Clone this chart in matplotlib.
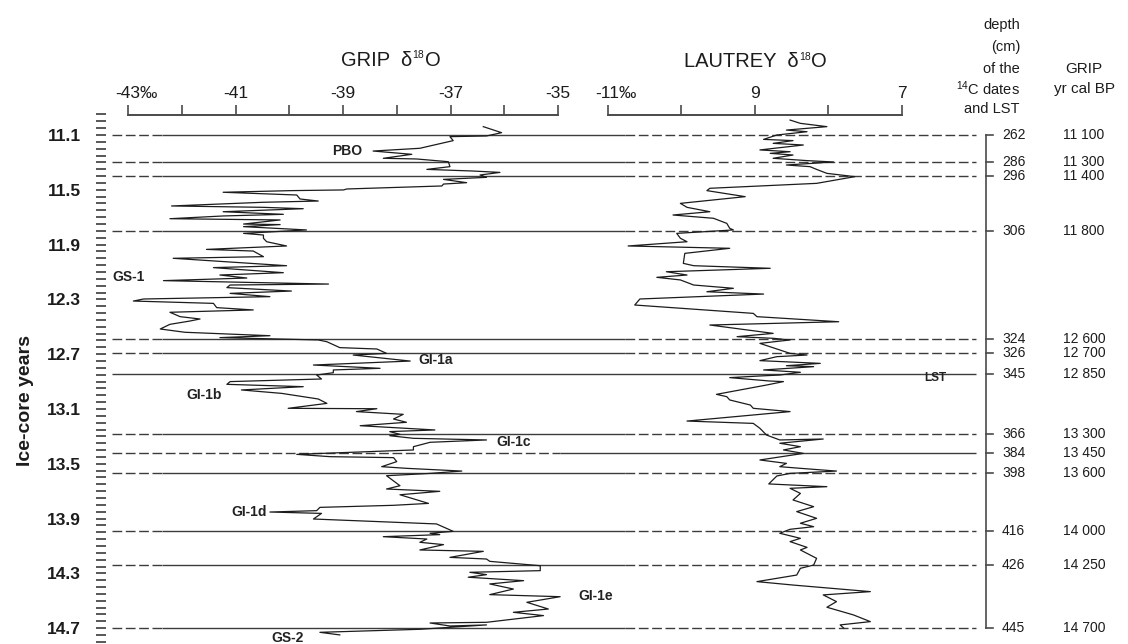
import matplotlib
matplotlib.use("Agg")
import matplotlib.pyplot as plt
from matplotlib.transforms import IdentityTransform

plt.rcParams['font.family'] = ['Liberation Sans', 'DejaVu Sans']
plt.rcParams['mathtext.fontset'] = 'custom'
plt.rcParams['mathtext.rm'] = 'Liberation Sans'
plt.rcParams['mathtext.it'] = 'Liberation Sans:italic'
plt.rcParams['mathtext.bf'] = 'Liberation Sans:bold'

# ---------------- data ----------------
grip_age = [11.039, 11.083, 11.107, 11.112, 11.141, 11.197, 11.217, 11.241, 11.270, 11.275,
            11.295, 11.331, 11.351, 11.363, 11.373, 11.392, 11.409, 11.424, 11.448, 11.458,
            11.472, 11.494, 11.501, 11.506, 11.518, 11.538, 11.567, 11.582, 11.591, 11.618,
            11.628, 11.638, 11.660, 11.679, 11.691, 11.711, 11.720, 11.750, 11.754, 11.769,
            11.793, 11.818, 11.830, 11.854, 11.879, 11.910, 11.935, 11.947, 11.988, 12.000,
            12.054, 12.068, 12.105, 12.122, 12.144, 12.163, 12.188, 12.195, 12.214, 12.239,
            12.256, 12.280, 12.297, 12.312, 12.329, 12.360, 12.377, 12.394, 12.426, 12.443,
            12.458, 12.482, 12.516, 12.540, 12.565, 12.579, 12.596, 12.609, 12.652, 12.662,
            12.694, 12.706, 12.750, 12.779, 12.803, 12.815, 12.835, 12.852, 12.881, 12.900,
            12.920, 12.937, 12.961, 12.986, 13.027, 13.059, 13.095, 13.098, 13.119, 13.139,
            13.173, 13.197, 13.222, 13.253, 13.265, 13.285, 13.295, 13.314, 13.326, 13.343,
            13.375, 13.399, 13.431, 13.448, 13.455, 13.484, 13.521, 13.533, 13.553, 13.570,
            13.587, 13.660, 13.684, 13.701, 13.726, 13.789, 13.803, 13.818, 13.842, 13.852,
            13.862, 13.903, 13.939, 13.993, 14.007, 14.017, 14.032, 14.049, 14.073, 14.090,
            14.129, 14.139, 14.183, 14.195, 14.212, 14.244, 14.280, 14.292, 14.309, 14.328,
            14.353, 14.377, 14.414, 14.455, 14.470, 14.511, 14.560, 14.584, 14.608, 14.657,
            14.662, 14.684, 14.676, 14.708, 14.730, 14.749]
grip_d18o = [-36.39, -36.05, -36.33, -37.01, -36.95, -37.57, -38.44, -37.72, -38.25, -37.63,
             -37.04, -37.01, -37.44, -36.58, -36.08, -36.45, -36.33, -37.13, -36.70, -37.13,
             -37.16, -38.93, -38.99, -39.96, -41.23, -39.86, -39.80, -39.46, -40.48, -42.19,
             -40.48, -39.74, -41.23, -40.11, -41.23, -42.22, -40.17, -40.85, -40.17, -40.85,
             -39.68, -40.85, -40.48, -40.48, -40.42, -40.05, -41.54, -40.67, -40.48, -42.16,
             -40.05, -41.41, -40.11, -41.29, -40.79, -42.34, -39.27, -41.10, -41.16, -39.96,
             -41.10, -40.36, -42.71, -42.90, -41.41, -41.35, -40.67, -42.22, -42.03, -41.66,
             -41.85, -42.22, -42.40, -41.94, -40.36, -41.29, -39.46, -39.30, -39.06, -38.37,
             -38.19, -38.81, -37.75, -39.55, -38.31, -39.18, -39.18, -39.49, -39.40, -41.10,
             -41.16, -39.74, -40.89, -40.14, -39.46, -39.30, -40.02, -38.37, -38.75, -37.88,
             -38.06, -37.82, -38.68, -37.29, -38.13, -37.94, -38.13, -37.69, -36.33, -37.38,
             -37.69, -37.69, -39.86, -39.24, -38.06, -38.00, -38.28, -37.82, -36.79, -37.38,
             -38.19, -37.94, -38.19, -37.20, -37.94, -37.41, -38.06, -39.43, -39.49, -40.36,
             -39.40, -39.55, -37.26, -36.95, -37.38, -37.20, -38.25, -37.44, -37.57, -37.13,
             -37.57, -36.39, -37.01, -36.33, -36.27, -35.33, -35.33, -36.64, -36.33, -36.67,
             -35.64, -36.27, -35.83, -36.27, -34.96, -35.58, -35.18, -35.83, -35.27, -36.33,
             -37.38, -37.01, -36.33, -37.57, -39.43, -39.06]

lautrey_age = [10.991, 11.015, 11.039, 11.064, 11.076, 11.100, 11.132, 11.141, 11.161, 11.173,
               11.209, 11.222, 11.234, 11.246, 11.270, 11.287, 11.297, 11.319, 11.331, 11.351,
               11.380, 11.404, 11.453, 11.472, 11.489, 11.506, 11.550, 11.599, 11.628, 11.660,
               11.684, 11.708, 11.745, 11.781, 11.793, 11.818, 11.854, 11.879, 11.910, 11.927,
               11.964, 12.037, 12.054, 12.073, 12.098, 12.122, 12.139, 12.158, 12.195, 12.219,
               12.244, 12.261, 12.297, 12.341, 12.402, 12.426, 12.463, 12.487, 12.548, 12.572,
               12.584, 12.596, 12.621, 12.694, 12.706, 12.718, 12.747, 12.767, 12.784, 12.791,
               12.815, 12.832, 12.852, 12.859, 12.871, 12.896, 12.900, 12.925, 12.961, 12.993,
               13.010, 13.034, 13.071, 13.095, 13.119, 13.188, 13.205, 13.241, 13.290, 13.326,
               13.319, 13.350, 13.375, 13.399, 13.424, 13.472, 13.497, 13.521, 13.533, 13.553,
               13.570, 13.589, 13.647, 13.667, 13.679, 13.716, 13.764, 13.813, 13.849, 13.898,
               13.934, 13.959, 13.978, 14.007, 14.044, 14.068, 14.110, 14.129, 14.190, 14.239,
               14.263, 14.312, 14.360, 14.385, 14.433, 14.457, 14.506, 14.547, 14.603, 14.652,
               14.676, 14.700]
lautrey_d18o = [-8.52, -8.38, -8.02, -8.57, -8.29, -8.70, -8.88, -8.48, -8.75, -8.34,
                -8.93, -8.52, -8.79, -8.48, -8.75, -8.29, -7.93, -8.57, -8.25, -8.16,
                -8.02, -7.64, -8.16, -8.93, -9.61, -9.65, -9.13, -10.01, -9.92, -9.61,
                -10.11, -9.56, -9.38, -9.34, -9.29, -10.06, -10.01, -9.92, -10.72, -9.34,
                -9.95, -9.97, -9.83, -8.79, -10.20, -9.92, -10.33, -10.01, -9.83, -9.29,
                -9.65, -8.88, -10.56, -10.63, -9.02, -8.97, -7.86, -9.61, -8.75, -9.24,
                -8.75, -8.52, -8.93, -8.52, -8.29, -8.70, -8.93, -8.11, -8.57, -8.20,
                -8.88, -8.38, -8.66, -8.93, -9.34, -8.79, -8.61, -8.84, -9.20, -9.52,
                -9.38, -9.34, -9.06, -9.02, -8.52, -9.92, -9.02, -8.93, -8.84, -8.66,
                -8.07, -8.66, -8.38, -8.61, -8.34, -8.93, -8.57, -8.66, -8.38, -7.89,
                -8.52, -8.70, -8.81, -8.02, -8.52, -8.38, -8.48, -8.20, -8.43, -8.16,
                -8.38, -8.20, -8.52, -8.66, -8.38, -8.52, -8.29, -8.38, -8.16, -8.20,
                -8.38, -8.43, -8.97, -8.48, -7.43, -8.07, -7.89, -8.02, -7.66, -7.43,
                -7.84, -7.79]

# horizontal reference lines (ice-core ka)
line_age = [11.1, 11.3, 11.4, 11.8, 12.59, 12.69, 12.845, 13.28, 13.42, 13.57, 13.99, 14.24, 14.7]
depth_labels = ['262', '286', '296', '306', '324', '326', '345', '366', '384', '398', '416', '426', '445']
grip_yr_labels = ['11 100', '11 300', '11 400', '11 800', '12 600', '12 700', '12 850',
                  '13 300', '13 450', '13 600', '14 000', '14 250', '14 700']
LST_INDEX = 6
SOLID_RIGHT_INDEX = 8

y_major = [11.1, 11.5, 11.9, 12.3, 12.7, 13.1, 13.5, 13.9, 14.3, 14.7]
y_major_labels = ['11.1', '11.5', '11.9', '12.3', '12.7', '13.1', '13.5', '13.9', '14.3', '14.7']
y_minor = [round(10.95 + 0.05 * i, 2) for i in range(78)]

grip_ticks = [-43, -42, -41, -40, -39, -38, -37, -36, -35]
grip_tick_labels = {-43: '-43‰', -41: '-41', -39: '-39', -37: '-37', -35: '-35'}
lautrey_ticks = [-11, -10, -9, -8, -7]
lautrey_tick_labels = {-11: '-11‰', -9: '9', -7: '7'}

event_names = ['PBO', 'GS-1', 'GI-1a', 'GI-1b', 'GI-1c', 'GI-1d', 'GS-2', 'GI-1e']
event_xpx = [347, 129, 436, 204, 514, 249, 287, 596]
event_ypx = [151, 277, 360, 395, 442, 512, 638, 596]

# ---------------- layout ----------------
W, H = 1128, 644
fig = plt.figure(figsize=(W / 100, H / 100), dpi=100)
T0, Y0, PXKA = 11.1, 135.0, 137.0


def t_at(ypx):
    return T0 + (ypx - Y0) / PXKA


INK = '#1c1c1c'
LINE_C = '#3c3c3c'
AX_C = '#4a4a4a'

ax_bg = fig.add_axes([0, 0, 1, 1])
ax_bg.set_xlim(0, W)
ax_bg.set_ylim(t_at(H), t_at(0))
ax_bg.axis('off')

dash = (0, (7, 2.6))
for i, t in enumerate(line_age):
    kw = dict(color=LINE_C, lw=1.0, solid_capstyle='butt', dash_capstyle='butt')
    if i == LST_INDEX:
        ax_bg.plot([112, 976], [t, t], **kw)
    elif i == SOLID_RIGHT_INDEX:
        ax_bg.plot([112, 560], [t, t], linestyle=dash, **kw)
        ax_bg.plot([560, 976], [t, t], **kw)
    else:
        ax_bg.plot([112, 162], [t, t], linestyle=dash, **kw)
        ax_bg.plot([162, 625], [t, t], **kw)
        ax_bg.plot([625, 976], [t, t], linestyle=dash, **kw)

# depth bracket
ax_bg.plot([986, 986], [line_age[0], line_age[-1]], color=AX_C, lw=1.2)
for t, d, yr in zip(line_age, depth_labels, grip_yr_labels):
    ax_bg.plot([986, 993], [t, t], color=AX_C, lw=1.2)
    ax_bg.text(1002, t, d, ha='left', va='center', fontsize=10, color=INK)
    ax_bg.text(1084, t, yr, ha='center', va='center', fontsize=10, color=INK)

# event labels
for name, xp, yp in zip(event_names, event_xpx, event_ypx):
    ax_bg.text(xp, t_at(yp), name, ha='center', va='center', fontsize=10,
               fontweight='bold', color='#222222')
ax_bg.text(935, t_at(378), 'LST', ha='center', va='center', fontsize=8.5,
           fontweight='bold', color='#222222')

# y axis (ice-core years)
ax_y = fig.add_axes([106 / W, 0, 0.0005, 1])
ax_y.set_ylim(t_at(H), t_at(0))
for s in ax_y.spines.values():
    s.set_visible(False)
ax_y.set_xticks([])
ax_y.set_yticks(y_major)
ax_y.set_yticklabels(y_major_labels, fontsize=12.5, fontweight='bold', color=INK)
ax_y.set_yticks(y_minor, minor=True)
ax_y.tick_params(axis='y', which='both', direction='out', length=7.2, width=1.3,
                 color=AX_C, pad=11)
ax_y.patch.set_alpha(0)
fig.text(26 / W, 1 - 400 / H, 'Ice-core years', rotation=90, ha='center', va='center',
         fontsize=14, fontweight='bold', color=INK)

TOP = 115


def make_scale_axes(x0, x1, lims, ticks, labels):
    ax = fig.add_axes([x0 / W, 0, (x1 - x0) / W, (H - TOP) / H])
    ax.set_xlim(*lims)
    ax.set_ylim(t_at(H), t_at(TOP))
    for s in ['left', 'right', 'bottom']:
        ax.spines[s].set_visible(False)
    ax.spines['top'].set_color(AX_C)
    ax.spines['top'].set_linewidth(1.4)
    ax.xaxis.tick_top()
    ax.set_xticks(ticks)
    ax.set_xticklabels([])
    ax.set_yticks([])
    ax.tick_params(axis='x', direction='out', length=7.2, width=1.2, color=AX_C)
    ax.patch.set_alpha(0)
    for v, s in labels.items():
        if '‰' in s:
            ax.annotate(s, xy=(v, 1), xycoords=('data', 'axes fraction'),
                        xytext=(-9, 15.5), textcoords='offset points',
                        ha='left', va='center', fontsize=12.5, color=INK)
        else:
            ax.annotate(s, xy=(v, 1), xycoords=('data', 'axes fraction'),
                        xytext=(0, 15.5), textcoords='offset points',
                        ha='center', va='center', fontsize=12.5, color=INK)
    return ax


ax_g = make_scale_axes(128, 558, (-43, -35), grip_ticks, grip_tick_labels)
ax_g.plot(grip_d18o, grip_age, color=INK, lw=0.9, clip_on=False)

ax_l = make_scale_axes(607.5, 902, (-11, -7), lautrey_ticks, lautrey_tick_labels)
ax_l.plot(lautrey_d18o, lautrey_age, color=INK, lw=0.9, clip_on=False)

# titles with a small raised "18"
renderer = fig.canvas.get_renderer()


def rich_title(xc, ybase_from_top, parts):
    items = []
    for s, fs, dy in parts:
        tx = fig.text(0, 0, s, fontsize=fs, ha='left', va='baseline',
                      transform=IdentityTransform(), color=INK)
        items.append((tx, dy))
    widths = [tx.get_window_extent(renderer).width for tx, _ in items]
    x = xc - sum(widths) / 2
    yb = H - ybase_from_top
    for (tx, dy), w in zip(items, widths):
        tx.set_position((x, yb + dy))
        x += w + 0.5


rich_title(390, 66, [('GRIP  δ', 14.5, 0), ('18', 7.5, 7.5), ('O', 14.5, 0)])
rich_title(755, 67, [('LAUTREY  δ', 14.5, 0), ('18', 7.5, 7.5), ('O', 14.5, 0)])

header = ['depth', '(cm)', 'of the', '$^{14}$C dates', 'and LST']
header_y = [25, 47, 69, 89, 109]
for s, yp in zip(header, header_y):
    fig.text(1020 / W, 1 - yp / H, s, ha='right', va='center', fontsize=10.5, color=INK)
fig.text(1084 / W, 1 - 69 / H, 'GRIP', ha='center', va='center', fontsize=11, color=INK)
fig.text(1084 / W, 1 - 89 / H, 'yr cal BP', ha='center', va='center', fontsize=11, color=INK)

fig.savefig('out.png', dpi=100)
